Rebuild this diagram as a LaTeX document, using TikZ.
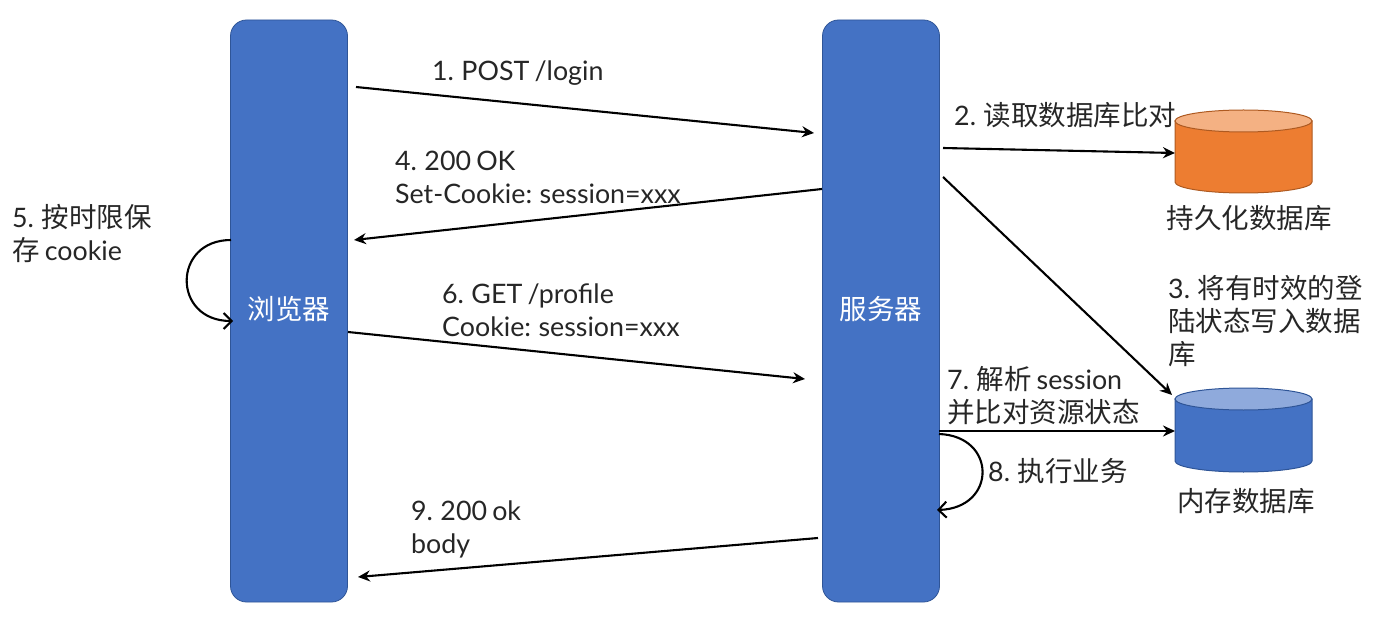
\documentclass[tikz,border=0pt]{standalone}
\usepackage{fontspec}
\setmainfont[WordSpace=0.75]{Lato}
\newfontfamily\cjk{Noto Sans CJK SC}
\usetikzlibrary{arrows.meta,shapes.geometric}
\definecolor{boxblue}{HTML}{4472C4}
\definecolor{boxedge}{HTML}{2F5597}
\definecolor{dborange}{HTML}{ED7D31}
\definecolor{dborangetop}{HTML}{F4B183}
\definecolor{dborangeedge}{HTML}{AE5A21}
\definecolor{dbbluetop}{HTML}{8FAADC}
\definecolor{txt}{HTML}{262626}
\newcommand{\zh}[1]{{\fontsize{27.5}{33}\selectfont\cjk #1}}
\tikzset{
  x=1pt,y=-1pt,
  lane/.style={draw=boxedge,line width=0.8pt,fill=boxblue,rounded corners=16pt,minimum width=117pt,minimum height=582pt,inner sep=0pt,text=white},
  lanetext/.style={inner sep=0pt,text=white,font=\fontsize{27.5}{30}\selectfont\cjk},
  lbl/.style={anchor=north west,inner sep=0pt,align=left,text=txt,font=\fontsize{26.8}{33}\selectfont},
  dblbl/.style={anchor=center,inner sep=0pt,text=txt,font=\fontsize{27.5}{30}\selectfont\cjk},
  flow/.style={draw=black,line width=2.1pt,-{Stealth[length=12pt,width=11pt]}},
  loopflow/.style={draw=black,line width=2.1pt,-{Straight Barb[length=8pt,width=16pt]}},
  dbanchor/.style={cylinder,shape border rotate=90,aspect=0.3,draw=none,minimum width=137pt,minimum height=84pt,inner sep=0pt},
}
\begin{document}
\begin{tikzpicture}
\useasboundingbox (0,0) rectangle (1400,620);
\node[lane] (browser) at (289,311) {};
\node[lane] (server) at (881,311) {};
\node[lanetext] (browserl) at (289,309) {浏览器};
\node[lanetext] (serverl) at (881,309) {服务器};

% persistent DB
\node[dbanchor] (pdb) at (1243.5,152) {};
\path[fill=dborange,draw=dborangeedge,line width=1pt] (1175,121) -- (1175,182) arc[x radius=68.5,y radius=11,start angle=180,end angle=0] -- (1312,121) -- cycle;
\path[fill=dborangetop,draw=dborangeedge,line width=1pt] (1243.5,121) ellipse[x radius=68.5,y radius=11];
% memory DB
\node[dbanchor] (mdb) at (1243.5,430) {};
\path[fill=boxblue,draw=boxedge,line width=1pt] (1175,399) -- (1175,461) arc[x radius=68.5,y radius=11,start angle=180,end angle=0] -- (1312,399) -- cycle;
\path[fill=dbbluetop,draw=boxedge,line width=1pt] (1243.5,399) ellipse[x radius=68.5,y radius=11];

\node[dblbl] (pdbl) at (1249,218.5) {持久化数据库};
\node[dblbl] (mdbl) at (1246,501.5) {内存数据库};

\node[lbl] (t1) at (432,61) {1. POST /login};
\node[lbl] (t2) at (954,102) {2. \zh{读取数据库比对}};
\node[lbl] (t3) at (1168,275) {3. \zh{将有时效的登}\\\zh{陆状态写入数据}\\\zh{库}};
\node[lbl] (t4) at (395,151) {4. 200 OK\\Set-Cookie: session=xxx};
\node[lbl] (t5) at (12,204) {5. \zh{按时限保}\\\zh{存} cookie};
\node[lbl] (t6) at (442,284) {6. GET /profile\\Cookie: session=xxx};
\node[lbl] (t7) at (947,366) {7. \zh{解析} session\\\zh{并比对资源状态}};
\node[lbl] (t8) at (988,458) {8. \zh{执行业务}};
\node[lbl] (t9) at (411,501) {9. 200 ok\\body};

\coordinate (a1) at (356,87);   \coordinate (b1) at (814,133);
\coordinate (a2) at (943,148);  \coordinate (b2) at (1175,153);
\coordinate (a3) at (943,177);  \coordinate (b3) at (1172,395);
\coordinate (a4) at (822,189);  \coordinate (b4) at (354,240);
\coordinate (a6) at (348,332);  \coordinate (b6) at (805,379);
\coordinate (a7) at (939,431);  \coordinate (b7) at (1175,431);
\coordinate (a9) at (818,538);  \coordinate (b9) at (358,577);
\coordinate (a5) at (231,240);  \coordinate (b5) at (233,321);
\coordinate (a8) at (939,434);  \coordinate (b8) at (937,510);

\draw[flow] (a1) -- (b1);
\draw[flow] (a2) -- (b2);
\draw[flow] (a3) -- (b3);
\draw[flow] (a4) -- (b4);
\draw[flow] (a6) -- (b6);
\draw[flow] (a7) -- (b7);
\draw[flow] (a9) -- (b9);
\draw[loopflow] (a5) .. controls (172,240) and (172,321) .. (b5);
\draw[loopflow] (a8) .. controls (997,436) and (997,508) .. (b8);
\end{tikzpicture}
\end{document}
